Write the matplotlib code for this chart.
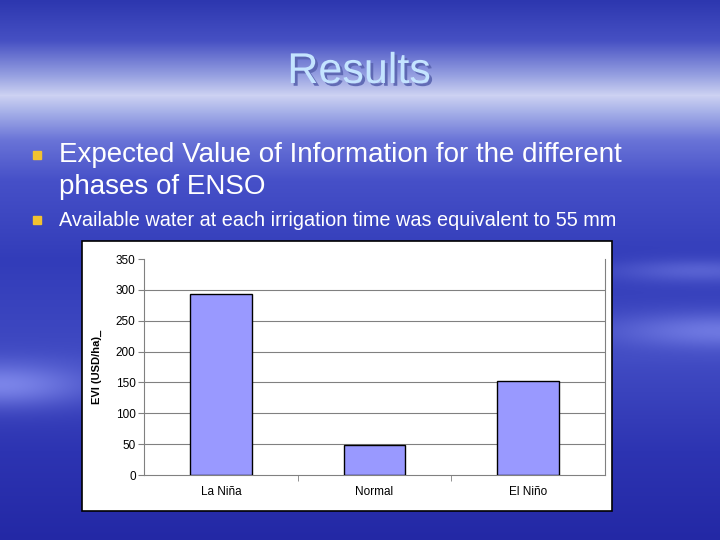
import numpy as np
import matplotlib
matplotlib.use('Agg')
import matplotlib.pyplot as plt
import matplotlib.patheffects as pe
from matplotlib.patches import Rectangle

plt.rcParams['font.family'] = ['Liberation Sans', 'DejaVu Sans']

categories = ['La Niña', 'Normal', 'El Niño']
evi_values = [293, 48, 152]
y_ticks = [0, 50, 100, 150, 200, 250, 300, 350]

title_text = 'Results'
bullet_1 = 'Expected Value of Information for the different\nphases of ENSO'
bullet_2 = 'Available water at each irrigation time was equivalent to 55 mm'

W, H = 720, 540
fig = plt.figure(figsize=(7.2, 5.4), dpi=100)

# slide background: blue gradient with a light band near the top
stops_y = [0, 40, 75, 95, 112, 140, 180, 260, 360, 450, 540]
stops_c = [(45, 55, 175), (70, 80, 195), (150, 160, 225), (205, 210, 242),
           (165, 175, 232), (105, 115, 215), (70, 80, 200), (50, 60, 185),
           (65, 75, 195), (45, 52, 178), (35, 40, 165)]
yy = np.arange(H)
prof = np.stack([np.interp(yy, stops_y, [c[k] for c in stops_c]) for k in range(3)], axis=1)
bg = np.repeat(prof[:, None, :], W, axis=1)
xx = np.arange(W)[None, :]
# soft streaks on the sides
streak = np.exp(-((yy[:, None] - 385) / 22.0) ** 2) * np.exp(-(xx / 90.0) ** 2) * 70
streak += np.exp(-((yy[:, None] - 330) / 18.0) ** 2) * np.exp(-((xx - 720) / 110.0) ** 2) * 55
streak += np.exp(-((yy[:, None] - 270) / 12.0) ** 2) * np.exp(-((xx - 700) / 90.0) ** 2) * 40
bg = bg + streak[:, :, None] * np.array([0.9, 0.9, 0.6])
bg = np.clip(bg, 0, 255) / 255.0

bg_ax = fig.add_axes([0, 0, 1, 1])
bg_ax.imshow(bg, aspect='auto', extent=[0, W, H, 0])
bg_ax.set_xlim(0, W)
bg_ax.set_ylim(H, 0)
bg_ax.axis('off')

# title with a shadow
bg_ax.text(359, 72, title_text, ha='center', va='center', fontsize=31,
           color='#c4e4ff', zorder=4,
           path_effects=[pe.withSimplePatchShadow(offset=(2, -2), shadow_rgbFace='#5a64b0', alpha=0.9)])

# bullets
for by in [155, 220]:
    bg_ax.add_patch(Rectangle((33, by - 4), 8, 8, color='#f2c230', zorder=4))
bg_ax.text(59, 171, bullet_1, ha='left', va='center', fontsize=20,
           color='white', linespacing=1.3, zorder=4)
bg_ax.text(59, 220, bullet_2, ha='left', va='center', fontsize=14.3,
           color='white', zorder=4)

# white chart box
bg_ax.add_patch(Rectangle((82, 241), 530, 270, facecolor='white',
                          edgecolor='black', linewidth=1.2, zorder=5))

# plot area
left, right, top, bottom = 144, 605, 259, 475
ax = fig.add_axes([left / W, 1 - bottom / H, (right - left) / W, (bottom - top) / H])
ax.set_zorder(6)
ax.patch.set_alpha(0)
x = np.arange(len(categories))
ax.bar(x, evi_values, width=0.4, color='#9999ff', edgecolor='black',
       linewidth=1, zorder=3)
ax.set_xlim(-0.5, 2.5)
ax.set_ylim(0, 350)
ax.set_yticks(y_ticks)
for yv in y_ticks[1:-1]:
    ax.axhline(yv, color='#808080', linewidth=0.8, zorder=0)
ax.set_xticks(x)
ax.set_xticklabels(categories, fontsize=8.5)
ax.set_xticks([0.5, 1.5], minor=True)
ax.tick_params(axis='x', which='major', length=0, pad=8)
ax.tick_params(axis='x', which='minor', length=4, color='#808080', direction='out')
ax.tick_params(axis='y', length=4, color='#808080', labelsize=8.5, pad=2)
ax.spines['top'].set_visible(False)
for sp in ['left', 'bottom', 'right']:
    ax.spines[sp].set_color('#808080')
    ax.spines[sp].set_linewidth(0.8)
ax.set_ylabel('EVI (USD/ha)_', fontsize=8, fontweight='bold', labelpad=10)

fig.savefig('out.png', dpi=100)
